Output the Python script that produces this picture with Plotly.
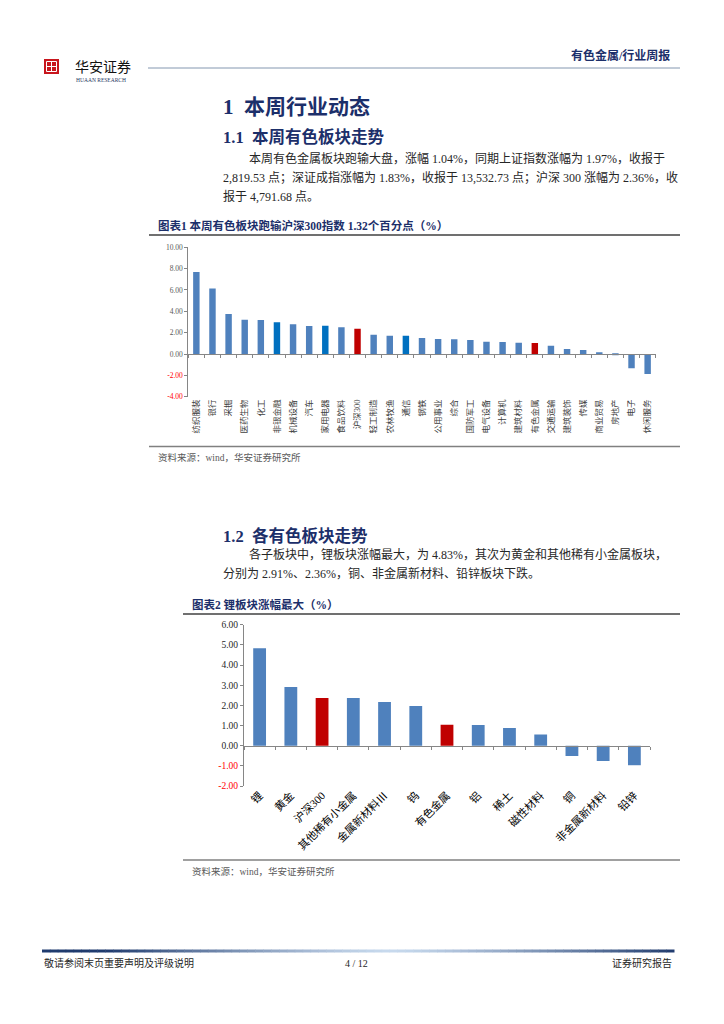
import plotly.graph_objects as go

W, H = 724, 1024
OFF = 8  # page body margin of the viewer, compensated in placement

# ---------------- data ----------------
cats1 = ["纺织服装", "银行", "采掘", "医药生物", "化工", "非银金融", "机械设备", "汽车", "家用电器",
         "食品饮料", "沪深300", "轻工制造", "农林牧渔", "通信", "钢铁", "公用事业", "综合", "国防军工",
         "电气设备", "计算机", "建筑材料", "有色金属", "交通运输", "建筑装饰", "传媒", "商业贸易",
         "房地产", "电子", "休闲服务"]
vals1 = [7.68, 6.15, 3.75, 3.22, 3.19, 2.97, 2.78, 2.62, 2.65,
         2.50, 2.36, 1.81, 1.72, 1.70, 1.50, 1.41, 1.38, 1.31,
         1.16, 1.13, 1.06, 1.04, 0.78, 0.47, 0.38, 0.15,
         -0.10, -1.34, -1.87]
ytick1 = [10, 8, 6, 4, 2, 0, -2, -4]

cats2 = ["锂", "黄金", "沪深300", "其他稀有小金属", "金属新材料Ⅲ", "钨", "有色金属", "铝", "稀土",
         "磁性材料", "铜", "非金属新材料", "铅锌"]
vals2 = [4.83, 2.91, 2.36, 2.36, 2.17, 1.97, 1.04, 1.03, 0.88, 0.56, -0.51, -0.76, -0.97]
ytick2 = [6, 5, 4, 3, 2, 1, 0, -1, -2]

red_set = {"沪深300", "有色金属"}
dark_set = {"非银金融", "家用电器", "通信"}

# ---------------- styles ----------------
BLUE = "#4f81bd"
DBLUE = "#0070c0"
RED = "#c00000"
NAVY = "#1c2f6a"
AX = "#868686"
FONT = "Liberation Serif, Noto Sans CJK SC"
CJK = "Noto Sans CJK SC"


def px(x):
    return (x - OFF) / W


def py(y):
    return 1 - (y - OFF) / H


def colors(cats):
    out = []
    for c in cats:
        if c in red_set:
            out.append(RED)
        elif c in dark_set:
            out.append(DBLUE)
        else:
            out.append(BLUE)
    return out


def ticktext(vals):
    t = []
    for v in vals:
        s = f"{v:.2f}"
        if v < 0:
            s = f'<span style="color:#ff0000">{s}</span>'
        t.append(s)
    return t


fig = go.Figure()

# chart 1
fig.add_trace(go.Bar(x=cats1, y=vals1, marker=dict(color=colors(cats1), line=dict(width=0)),
                     width=0.4, xaxis="x", yaxis="y", hoverinfo="x+y"))
fig.add_trace(go.Scatter(x=[None], y=[None], xaxis="x3", yaxis="y", showlegend=False, hoverinfo="skip"))
# chart 2
fig.add_trace(go.Bar(x=cats2, y=vals2, marker=dict(color=colors(cats2), line=dict(width=0)),
                     width=0.41, xaxis="x2", yaxis="y2", hoverinfo="x+y"))
fig.add_trace(go.Scatter(x=[None], y=[None], xaxis="x4", yaxis="y2", showlegend=False, hoverinfo="skip"))

# domains
xd1 = [px(188.3), px(655.7)]
yd1 = [py(396.7), py(247.3)]
xd2 = [px(244), px(650)]
yd2 = [py(786), py(624.7)]
yr1 = [min(ytick1), max(ytick1)]
yr2 = [min(ytick2), max(ytick2)]
zero1 = yd1[0] + (0 - yr1[0]) / (yr1[1] - yr1[0]) * (yd1[1] - yd1[0])
zero2 = yd2[0] + (0 - yr2[0]) / (yr2[1] - yr2[0]) * (yd2[1] - yd2[0])
n1, n2 = len(cats1), len(cats2)

fig.update_layout(
    width=W, height=H, margin=dict(l=0, r=0, t=0, b=0, pad=0, autoexpand=False),
    paper_bgcolor="white", plot_bgcolor="white", showlegend=False,
    font=dict(family=FONT, color="#262626"),
    bargap=0.6,
    xaxis=dict(domain=xd1, anchor="y", type="category", range=[-0.5, n1 - 0.5],
               tickangle=-90, tickfont=dict(family=FONT, size=8.5, color="#404040"),
               showline=False, ticks="", showgrid=False, zeroline=False, automargin=False),
    xaxis3=dict(domain=xd1, overlaying="x", anchor="free", position=zero1, range=[-0.5, n1 - 0.5],
                tickvals=[i - 0.5 for i in range(n1 + 1)], ticks="outside", ticklen=3, tickcolor=AX,
                showticklabels=False, showline=True, linecolor=AX, linewidth=1, showgrid=False,
                zeroline=False, automargin=False),
    yaxis=dict(domain=yd1, anchor="x", range=yr1, tickvals=ytick1, ticktext=ticktext(ytick1),
               tickfont=dict(family=FONT, size=7.5, color="#595959"), showline=True, linecolor=AX,
               ticks="outside", ticklen=3, tickcolor=AX, showgrid=False, zeroline=False, automargin=False),
    xaxis2=dict(domain=xd2, anchor="y2", type="category", range=[-0.5, n2 - 0.5],
                tickangle=-45, tickfont=dict(family=FONT, size=11, color="#000000"),
                showline=False, ticks="", showgrid=False, zeroline=False, automargin=False),
    xaxis4=dict(domain=xd2, overlaying="x2", anchor="free", position=zero2, range=[-0.5, n2 - 0.5],
                tickvals=[i - 0.5 for i in range(n2 + 1)], ticks="outside", ticklen=3, tickcolor=AX,
                showticklabels=False, showline=True, linecolor=AX, linewidth=1, showgrid=False,
                zeroline=False, automargin=False),
    yaxis2=dict(domain=yd2, anchor="x2", range=yr2, tickvals=ytick2, ticktext=ticktext(ytick2),
                tickfont=dict(family=FONT, size=9.5, color="#262626"), showline=True, linecolor=AX,
                ticks="outside", ticklen=3, tickcolor=AX, showgrid=False, zeroline=False, automargin=False),
)

shapes = []
ann = []


def line(x0, y0, x1, y1, color, w):
    shapes.append(dict(type="line", xref="paper", yref="paper", x0=px(x0), y0=py(y0), x1=px(x1), y1=py(y1),
                       line=dict(color=color, width=w)))


def text(x, y, s, size, color="#262626", anchor="left", family=FONT, bold=False):
    if bold:
        s = f"<b>{s}</b>"
    ann.append(dict(xref="paper", yref="paper", x=px(x), y=py(y), text=s, showarrow=False,
                    xanchor=anchor, yanchor="middle", font=dict(size=size, color=color, family=family)))


# header
text(672, 55, "有色金属/行业周报", 12, NAVY, "right", bold=True)
line(148, 68, 680, 68, "#8497b0", 1)
# logo
shapes.append(dict(type="rect", xref="paper", yref="paper", x0=px(44), y0=py(74), x1=px(59), y1=py(59),
                   fillcolor="#c8161d", line=dict(width=0)))
shapes.append(dict(type="rect", xref="paper", yref="paper", x0=px(46.5), y0=py(71.5), x1=px(56.5), y1=py(61.5),
                   fillcolor="rgba(0,0,0,0)", line=dict(color="white", width=1)))
line(46.5, 66.5, 56.5, 66.5, "white", 1)
line(51.5, 61.5, 51.5, 71.5, "white", 1)
text(73, 66, "华安证券", 14, "#111111", family=CJK)
text(74, 80, "HUAAN RESEARCH", 5.5, "#1f3864")

# section 1
text(221, 107, "1  本周行业动态", 21, NAVY, bold=True)
text(221, 137, "1.1  本周有色板块走势", 16.5, NAVY, bold=True)
text(247, 158, "本周有色金属板块跑输大盘，涨幅 1.04%，同期上证指数涨幅为 1.97%，收报于", 12)
text(221, 177, "2,819.53 点；深证成指涨幅为 1.83%，收报于 13,532.73 点；沪深 300 涨幅为 2.36%，收", 12)
text(221, 196, "报于 4,791.68 点。", 12)

# chart 1 frame
text(156, 225, "图表1 本周有色板块跑输沪深300指数 1.32个百分点（%）", 11.5, NAVY, bold=True)
line(149, 235, 680, 235, "#404040", 1.5)
line(149, 446.5, 680, 446.5, "#808080", 1.5)
text(156, 457, "资料来源：wind，华安证券研究所", 9.5, "#595959")

# section 2
text(221, 536, "1.2  各有色板块走势", 16.5, NAVY, bold=True)
text(247, 554, "各子板块中，锂板块涨幅最大，为 4.83%，其次为黄金和其他稀有小金属板块，", 12)
text(221, 573, "分别为 2.91%、2.36%，铜、非金属新材料、铅锌板块下跌。", 12)

# chart 2 frame
text(190, 604, "图表2 锂板块涨幅最大（%）", 11.5, NAVY, bold=True)
line(183, 614, 680, 614, "#404040", 1.5)
line(183, 860, 680, 860, "#808080", 1.5)
text(190, 871, "资料来源：wind，华安证券研究所", 9.5, "#595959")

# footer gradient line
dark = (31, 59, 110)
light = (200, 218, 238)
nseg = 80
x_start, x_end = 42, 674
for i in range(nseg):
    xa = x_start + (x_end - x_start) * i / nseg
    xb = x_start + (x_end - x_start) * (i + 1) / nseg
    t = (i + 0.5) / nseg
    d = min(1.0, abs(t - 0.55) / 0.45)
    c = tuple(int(light[k] + (dark[k] - light[k]) * d ** 1.3) for k in range(3))
    line(xa, 951, xb + 0.5, 951, f"rgb{c}", 3)
text(42, 963, "敬请参阅末页重要声明及评级说明", 10, "#262626")
text(356, 963, "4 / 12", 10, "#262626", "center")
text(674, 963, "证券研究报告", 10, "#262626", "right")

fig.update_layout(shapes=shapes, annotations=ann)
fig.write_html("out.html")
